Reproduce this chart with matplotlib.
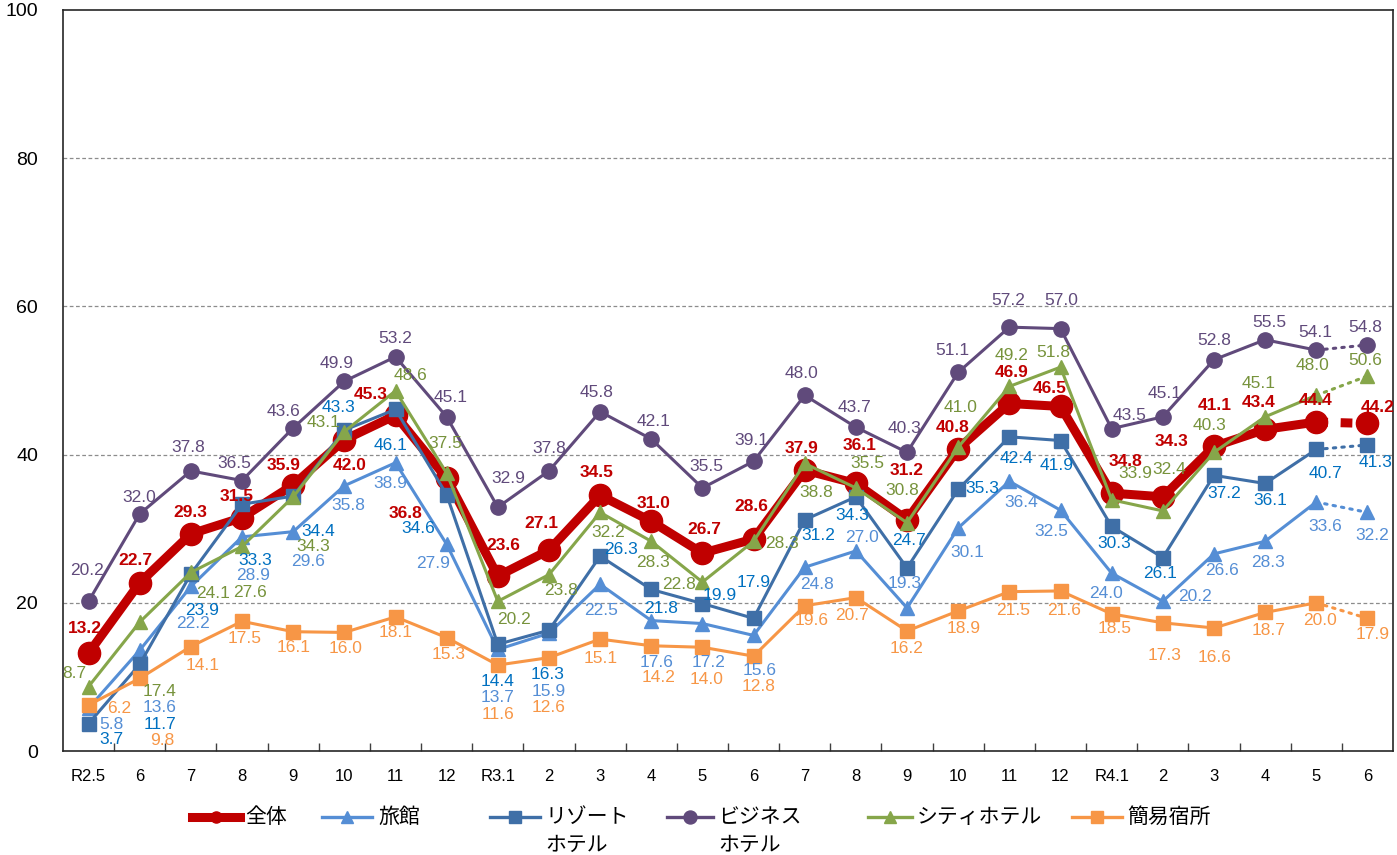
import matplotlib
matplotlib.use("Agg")
import matplotlib.pyplot as plt
from matplotlib.lines import Line2D

plt.rcParams['font.family'] = ['Liberation Sans', 'Noto Sans CJK JP', 'DejaVu Sans']

months = ["R2.5", "6", "7", "8", "9", "10", "11", "12", "R3.1", "2", "3", "4", "5",
          "6", "7", "8", "9", "10", "11", "12", "R4.1", "2", "3", "4", "5", "6"]

zentai = [13.2, 22.7, 29.3, 31.5, 35.9, 42.0, 45.3, 36.8, 23.6, 27.1, 34.5, 31.0, 26.7,
          28.6, 37.9, 36.1, 31.2, 40.8, 46.9, 46.5, 34.8, 34.3, 41.1, 43.4, 44.4, 44.2]
ryokan = [5.8, 13.6, 22.2, 28.9, 29.6, 35.8, 38.9, 27.9, 13.7, 15.9, 22.5, 17.6, 17.2,
          15.6, 24.8, 27.0, 19.3, 30.1, 36.4, 32.5, 24.0, 20.2, 26.6, 28.3, 33.6, 32.2]
resort = [3.7, 11.7, 23.9, 33.3, 34.4, 43.3, 46.1, 34.6, 14.4, 16.3, 26.3, 21.8, 19.9,
          17.9, 31.2, 34.3, 24.7, 35.3, 42.4, 41.9, 30.3, 26.1, 37.2, 36.1, 40.7, 41.3]
business = [20.2, 32.0, 37.8, 36.5, 43.6, 49.9, 53.2, 45.1, 32.9, 37.8, 45.8, 42.1, 35.5,
            39.1, 48.0, 43.7, 40.3, 51.1, 57.2, 57.0, 43.5, 45.1, 52.8, 55.5, 54.1, 54.8]
city = [8.7, 17.4, 24.1, 27.6, 34.3, 43.1, 48.6, 37.5, 20.2, 23.8, 32.2, 28.3, 22.8,
        28.3, 38.8, 35.5, 30.8, 41.0, 49.2, 51.8, 33.9, 32.4, 40.3, 45.1, 48.0, 50.6]
kan_i = [6.2, 9.8, 14.1, 17.5, 16.1, 16.0, 18.1, 15.3, 11.6, 12.6, 15.1, 14.2, 14.0,
         12.8, 19.6, 20.7, 16.2, 18.9, 21.5, 21.6, 18.5, 17.3, 16.6, 18.7, 20.0, 17.9]

# label offsets in pixels (dx, dy up) from each point
off_zentai = [(-4, 25), (-4, 22), (-1, 21), (-5, 21), (-10, 19), (5, -26), (-25, 21), (-41, -35),
              (6, 31), (-8, 27), (-4, 23), (2, 18), (2, 24), (-2, 33), (-3, 22), (4, 38),
              (0, 49), (-6, 21), (2, 31), (-11, 18), (14, 32), (9, 55), (1, 41), (-6, 27),
              (-1, 21), (10, 16)]
off_ryokan = [(23, -16), (20, -57), (2, -37), (11, -39), (15, -30), (4, -20), (-5, -21), (-14, -19),
              (0, -48), (0, -58), (1, -26), (5, -42), (6, -39), (6, -35), (12, -17), (6, 13),
              (-2, 24), (9, -25), (12, -21), (-9, -21), (-6, -20), (32, 5), (8, -17), (3, -21),
              (9, -24), (5, -23)]
off_resort = [(23, -16), (20, -60), (11, -37), (13, -56), (25, -35), (-6, 23), (-5, -36), (-28, -34),
              (0, -37), (-1, -44), (21, 7), (10, -19), (17, 8), (0, 36), (14, -16), (-4, -19),
              (2, 27), (24, 1), (7, -22), (-4, -25), (3, -17), (-3, -16), (10, -18), (5, -17),
              (9, -24), (8, -18)]
off_business = [(-2, 31), (0, 16), (-3, 23), (-8, 17), (-10, 16), (-8, 18), (0, 18), (4, 19),
                (10, 29), (0, 22), (-4, 19), (2, 18), (4, 21), (-2, 21), (-3, 22), (-1, 20),
                (-3, 24), (-6, 22), (-1, 27), (1, 28), (18, 13), (2, 23), (0, 19), (4, 17),
                (-1, 18), (-2, 17)]
off_city = [(-14, 13), (20, -69), (22, -21), (8, -46), (20, -50), (-21, 9), (15, 15), (-1, 30),
            (16, -18), (12, -16), (8, -20), (2, -21), (-23, -2), (28, -2), (12, -29), (11, 24),
            (-5, 32), (2, 40), (2, 31), (-7, 15), (24, 26), (6, 41), (-4, 27), (-6, 33),
            (-4, 30), (-2, 16)]
off_kan_i = [(31, -3), (23, -62), (12, -19), (3, -17), (0, -16), (1, -16), (0, -16), (2, -17),
             (0, -49), (0, -50), (1, -19), (7, -32), (4, -32), (5, -30), (7, -15), (-4, -18),
             (0, -18), (5, -18), (4, -19), (4, -20), (3, -15), (2, -33), (1, -30), (3, -18),
             (4, -18), (5, -16)]

series = [
    # name, values, line color, label color, marker, marker size, line width, offsets, bold
    ("全体", zentai, "#C00000", "#C00000", "o", 16, 6.5, off_zentai, True),
    ("旅館", ryokan, "#558ED5", "#558ED5", "^", 10, 2.2, off_ryokan, False),
    ("リゾート\nホテル", resort, "#3F6FA7", "#0070C0", "s", 9.5, 2.2, off_resort, False),
    ("ビジネス\nホテル", business, "#604A7B", "#604A7B", "o", 11, 2.2, off_business, False),
    ("シティホテル", city, "#86A64A", "#77933C", "^", 10, 2.2, off_city, False),
    ("簡易宿所", kan_i, "#F79646", "#F79646", "s", 9.5, 2.2, off_kan_i, False),
]

W, H = 1397, 855
fig = plt.figure(figsize=(W / 100, H / 100), dpi=100)
ax = fig.add_axes([63 / W, 1 - 751 / H, (1393 - 63) / W, (751 - 10) / H])

x = list(range(len(months)))
for k, (name, vals, lc, tc, mk, ms, lw, offs, bold) in enumerate(series):
    z = 2 + k
    ax.plot(x[:-1], vals[:-1], color=lc, lw=lw, zorder=z, solid_joinstyle='round')
    if k == 0:
        ax.plot(x[-2:], vals[-2:], color=lc, lw=lw, linestyle=(0, (1.3, 1.4)),
                dash_capstyle='butt', zorder=z)
    else:
        ax.plot(x[-2:], vals[-2:], color=lc, lw=lw, linestyle=(0, (0.8, 2.0)),
                dash_capstyle='round', zorder=z)
    ax.plot(x, vals, linestyle='none', marker=mk, ms=ms, color=lc, mec=lc, zorder=z)
    for i, v in enumerate(vals):
        dx, dy = offs[i]
        ax.annotate(f"{v:.1f}", (i, v), xytext=(dx, dy), textcoords='offset pixels',
                    ha='center', va='center', color=tc, fontsize=12.5,
                    fontweight='bold' if bold else 'normal',
                    family=['Liberation Sans Narrow', 'Liberation Sans'], zorder=20)

ax.set_xlim(-0.5, len(months) - 0.5)
ax.set_ylim(0, 100)
ax.set_yticks([0, 20, 40, 60, 80, 100])
ax.set_xticks(x)
ax.set_xticklabels(months, fontsize=12)
ax.set_xticks([i + 0.5 for i in range(len(months) - 1)], minor=True)
ax.tick_params(axis='x', which='major', length=0, pad=13)
ax.tick_params(axis='x', which='minor', direction='in', length=6, width=1, color='#404040')
ax.tick_params(axis='y', length=0, pad=18, labelsize=14)
for yv in [20, 40, 60, 80]:
    ax.axhline(yv, color='#8c8c8c', lw=0.9, linestyle=(0, (3, 2)), zorder=1)
for sp in ax.spines.values():
    sp.set_color('#262626')
    sp.set_linewidth(1.2)

# legend drawn along the bottom
leg_pos = [(192, 240, 245), (322, 372, 378), (490, 540, 545),
           (667, 713, 718), (868, 912, 917), (1072, 1122, 1127)]
ly = 817
for (name, vals, lc, tc, mk, ms, lw, offs, bold), (x0, x1, tx) in zip(series, leg_pos):
    lwl = 6.5 if lw > 3 else 2.4
    msl = 8 if lw > 3 else ms * 0.85
    fig.add_artist(Line2D([x0 / W, x1 / W], [1 - ly / H, 1 - ly / H], color=lc, lw=lwl,
                          transform=fig.transFigure))
    fig.add_artist(Line2D([(x0 + x1) / 2 / W], [1 - ly / H], color=lc, marker=mk, ms=msl,
                          linestyle='none', transform=fig.transFigure))
    for j, t in enumerate(name.split("\n")):
        fig.text(tx / W, 1 - (ly + 28 * j) / H, t, ha='left', va='center', fontsize=15,
                 family=['Noto Sans CJK JP', 'DejaVu Sans'])

fig.savefig("out.png", dpi=100)
